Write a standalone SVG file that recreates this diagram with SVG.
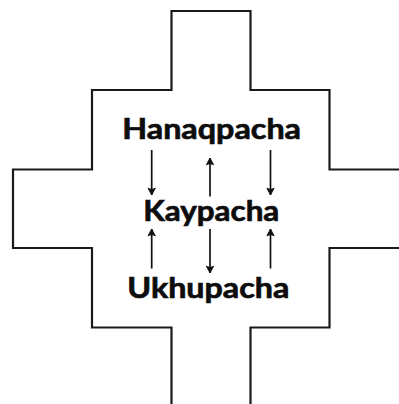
<svg xmlns="http://www.w3.org/2000/svg" width="399" height="404" viewBox="0 0 399 404">
  <style>
    .outline { fill: none; stroke: #1a1a1a; stroke-width: 2.2; stroke-linejoin: miter; }
    .label { font-family: Lato, "Open Sans", "Liberation Sans", sans-serif; font-weight: 700; font-size: 29px; fill: #0d0d0d; stroke: #0d0d0d; stroke-width: 0.7; }
    .link { fill: none; stroke: #111; stroke-width: 1.7; marker-end: url(#head); }
  </style>
  <defs>
    <marker id="head" viewBox="0 0 10 10" refX="9" refY="5" markerWidth="9" markerHeight="9" orient="auto" markerUnits="userSpaceOnUse">
      <path d="M1.5,1 L9,5 L1.5,9 L3,5 Z" fill="#111" stroke="#111" stroke-width="1" stroke-linejoin="round"/>
    </marker>
  </defs>

  <rect width="399" height="404" fill="#ffffff"/>

  <!-- stepped cross outline, open at the right and bottom edges -->
  <path class="outline" d="M171.5,410 V327.5 H92 V248 H13 V169.5 H92 V90 H171.5 V11 H250.5 V90 H329.5 V169.5 H410 M410,248 H329.5 V327.5 H250.5 V410"/>

  <g id="hanaqpacha">
    <text class="label" x="122.3" y="139.3" textLength="178.7" lengthAdjust="spacingAndGlyphs">Hanaqpacha</text>
  </g>
  <g id="kaypacha">
    <text class="label" x="143.3" y="221" textLength="136" lengthAdjust="spacingAndGlyphs">Kaypacha</text>
  </g>
  <g id="ukhupacha">
    <text class="label" x="127.3" y="297.7" textLength="162" lengthAdjust="spacingAndGlyphs">Ukhupacha</text>
  </g>

  <g id="connectors">
    <!-- between Hanaqpacha and Kaypacha -->
    <line class="link" x1="151.7" y1="150" x2="151.7" y2="195"/>
    <line class="link" x1="210" y1="196.5" x2="210" y2="158"/>
    <line class="link" x1="270.5" y1="150" x2="270.5" y2="195"/>
    <!-- between Kaypacha and Ukhupacha -->
    <line class="link" x1="151.7" y1="268.5" x2="151.7" y2="229"/>
    <line class="link" x1="210" y1="229" x2="210" y2="273"/>
    <line class="link" x1="270.5" y1="268.5" x2="270.5" y2="229"/>
  </g>
</svg>
